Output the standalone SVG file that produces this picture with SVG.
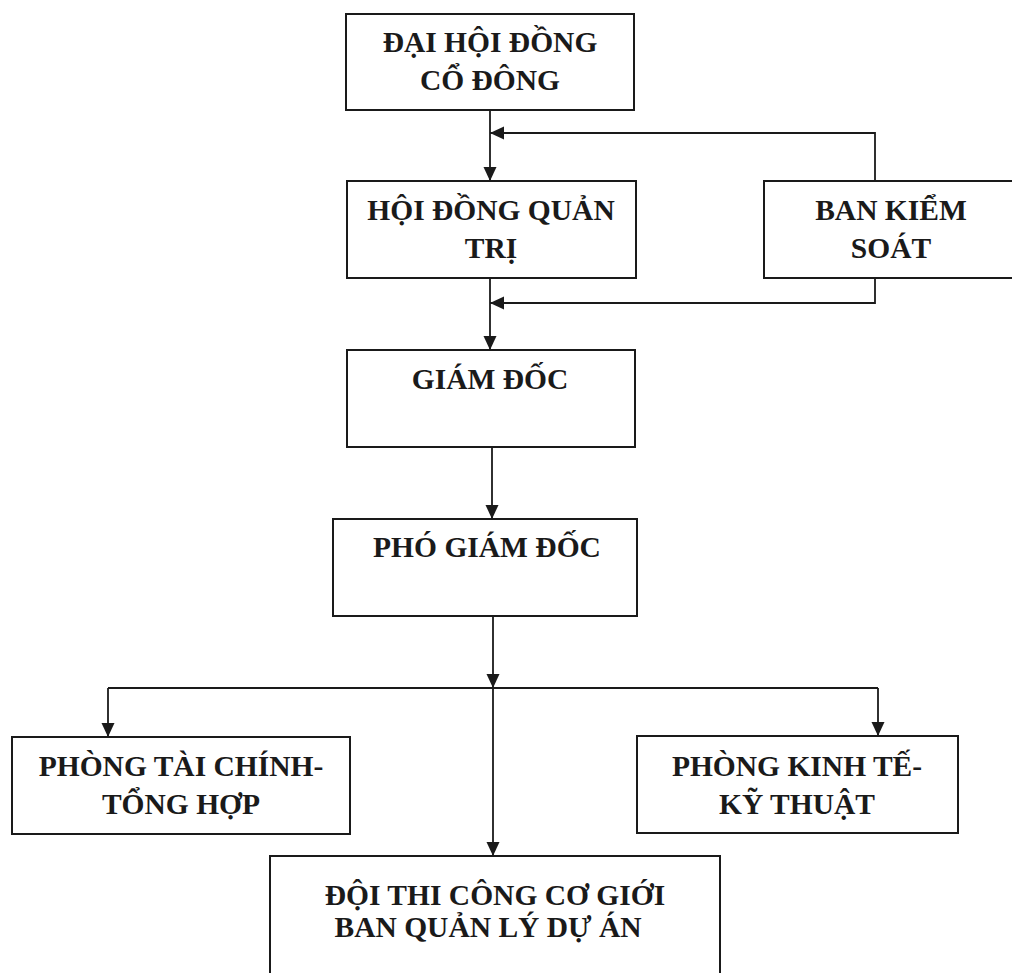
<svg xmlns="http://www.w3.org/2000/svg" width="1012" height="973" viewBox="0 0 1012 973">
<defs>
<style>
.box{fill:#fff;stroke:#1a1a1a;stroke-width:2}
.lbl{font-family:"Liberation Serif","Times New Roman",serif;font-weight:bold;font-size:29.5px;fill:#1a1a1a;text-anchor:middle}
.con{fill:none;stroke:#1a1a1a;stroke-width:1.8}
</style>
<marker id="arr" viewBox="0 0 14 14" refX="14" refY="7" markerWidth="14" markerHeight="14" markerUnits="userSpaceOnUse" orient="auto">
<path d="M0,0.5 L14,7 L0,13.5 Z" fill="#1a1a1a"/>
</marker>
</defs>
<rect width="1012" height="973" fill="#fff"/>
<g id="connectors">
<path class="con" d="M490,110 V181" marker-end="url(#arr)"/>
<path class="con" d="M875,181 V133 H490" marker-end="url(#arr)"/>
<path class="con" d="M490,278 V350" marker-end="url(#arr)"/>
<path class="con" d="M875,278 V303 H490" marker-end="url(#arr)"/>
<path class="con" d="M492,447 V519" marker-end="url(#arr)"/>
<path class="con" d="M493,616 V688" marker-end="url(#arr)"/>
<path class="con" d="M108,688 H878"/>
<path class="con" d="M108,688 V737" marker-end="url(#arr)"/>
<path class="con" d="M878,688 V736" marker-end="url(#arr)"/>
<path class="con" d="M493,688 V856" marker-end="url(#arr)"/>
</g>
<g id="dai-hoi-dong-co-dong">
<rect class="box" x="346" y="14" width="288" height="96"/>
<text class="lbl" x="490" y="52">ĐẠI HỘI ĐỒNG</text>
<text class="lbl" x="490" y="90">CỔ ĐÔNG</text>
</g>
<g id="hoi-dong-quan-tri">
<rect class="box" x="347" y="181" width="289" height="97"/>
<text class="lbl" x="491" y="220">HỘI ĐỒNG QUẢN</text>
<text class="lbl" x="491" y="258">TRỊ</text>
</g>
<g id="ban-kiem-soat">
<rect class="box" x="764" y="181" width="256" height="97"/>
<text class="lbl" x="891" y="220">BAN KIỂM</text>
<text class="lbl" x="891" y="258">SOÁT</text>
</g>
<g id="giam-doc">
<rect class="box" x="347" y="350" width="288" height="97"/>
<text class="lbl" x="490" y="389">GIÁM ĐỐC</text>
</g>
<g id="pho-giam-doc">
<rect class="box" x="333" y="519" width="304" height="97"/>
<text class="lbl" x="487" y="557">PHÓ GIÁM ĐỐC</text>
</g>
<g id="phong-tai-chinh-tong-hop">
<rect class="box" x="12" y="737" width="338" height="97"/>
<text class="lbl" x="181" y="776">PHÒNG TÀI CHÍNH-</text>
<text class="lbl" x="181" y="814">TỔNG HỢP</text>
</g>
<g id="phong-kinh-te-ky-thuat">
<rect class="box" x="637" y="736" width="321" height="97"/>
<text class="lbl" x="797" y="776">PHÒNG KINH TẾ-</text>
<text class="lbl" x="797" y="814">KỸ THUẬT</text>
</g>
<g id="doi-thi-cong-ban-qlda">
<rect class="box" x="270" y="856" width="450" height="130"/>
<text class="lbl" x="495" y="905">ĐỘI THI CÔNG CƠ GIỚI</text>
<text class="lbl" x="488" y="937">BAN QUẢN LÝ DỰ ÁN</text>
</g>
</svg>
